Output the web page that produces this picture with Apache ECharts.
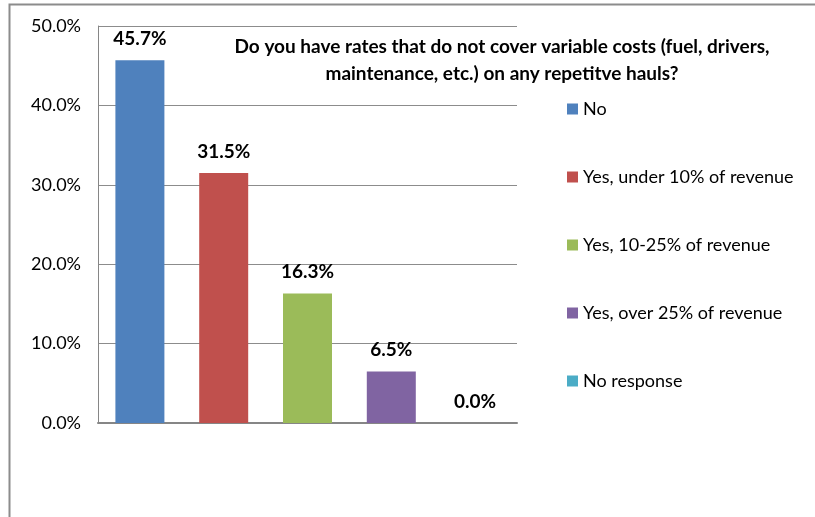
<!DOCTYPE html>
<html>
<head>
<meta charset="utf-8">
<script src="https://cdn.jsdelivr.net/npm/echarts@6/dist/echarts.min.js"></script>
<style>
html, body { margin: 0; padding: 0; background: #fff; }
#main { width: 815px; height: 517px; }
</style>
</head>
<body>
<div id="main"></div>
<script>
// survey answers
var answers = ['No', 'Yes, under 10% of revenue', 'Yes, 10-25% of revenue', 'Yes, over 25% of revenue', 'No response'];
var shares = [45.7, 31.5, 16.3, 6.5, 0.0];
var colors = ['#4F81BD', '#C0504D', '#9BBB59', '#8064A2', '#4BACC6'];
var yTicks = [0, 10, 20, 30, 40, 50];

var chart = echarts.init(document.getElementById('main'));

// one series per answer so the legend gets an entry each
var series = answers.map(function (name, i) {
    var d = answers.map(function (a, j) { return j === i ? shares[i] : '-'; });
    return {
        name: name,
        type: 'bar',
        stack: 'all',
        barWidth: 49,
        data: d,
        itemStyle: { color: colors[i] },
        label: {
            show: true,
            position: 'top',
            distance: 12,
            fontFamily: 'Lato',
            fontWeight: 'bold',
            fontSize: 19,
            color: '#000',
            formatter: function (p) { return p.value.toFixed(1) + '%'; }
        }
    };
});

var option = {
    animation: false,
    backgroundColor: '#fff',
    graphic: [{
        type: 'rect',
        shape: { x: 9.5, y: 4.5, width: 820, height: 530 },
        style: { fill: 'none', stroke: '#8c8c8c', lineWidth: 2 },
        silent: true
    }],
    title: {
        text: 'Do you have rates that do not cover variable costs (fuel, drivers,\nmaintenance, etc.) on any repetitve hauls?',
        left: 497,
        top: 28,
        textAlign: 'center',
        textStyle: {
            fontFamily: 'Lato',
            fontWeight: 'bold',
            fontSize: 19,
            lineHeight: 27,
            color: '#000'
        }
    },
    legend: {
        orient: 'vertical',
        left: 562,
        top: 95,
        itemWidth: 11,
        itemHeight: 11,
        itemGap: 50,
        icon: 'rect',
        data: answers,
        textStyle: { fontFamily: 'Lato', fontSize: 18, color: '#000' }
    },
    grid: { left: 98, right: 298, top: 26, bottom: 94, containLabel: false },
    xAxis: {
        type: 'category',
        data: answers,
        axisLine: { lineStyle: { color: '#868686', width: 2 } },
        axisTick: { show: false },
        axisLabel: { show: false }
    },
    yAxis: {
        type: 'value',
        min: yTicks[0],
        max: yTicks[yTicks.length - 1],
        interval: 10,
        axisLine: { show: true, lineStyle: { color: '#868686', width: 1 } },
        axisTick: { show: false },
        splitLine: { lineStyle: { color: '#8c8c8c', width: 1 } },
        axisLabel: {
            margin: 17,
            fontFamily: 'Lato',
            fontSize: 18,
            color: '#000',
            formatter: function (v) { return v.toFixed(1) + '%'; }
        }
    },
    series: series
};

chart.setOption(option);
</script>
</body>
</html>
